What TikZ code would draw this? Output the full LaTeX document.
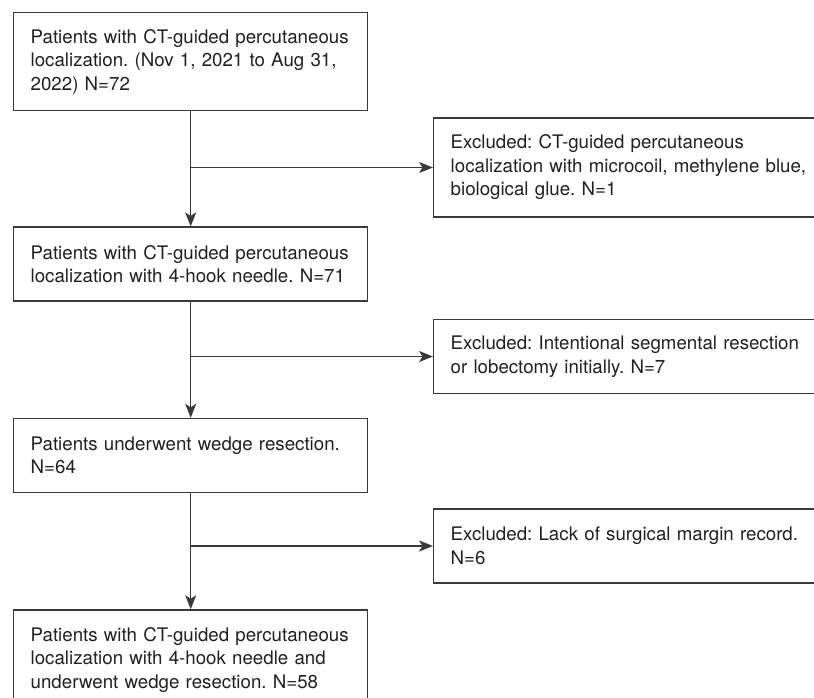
\documentclass[tikz,border=0pt]{standalone}
\usepackage{fontspec}
\setmainfont{TeX Gyre Heros}
\usetikzlibrary{arrows.meta,positioning}
\definecolor{linegray}{HTML}{3A3A3A}
\definecolor{textblack}{HTML}{231F20}
\frenchspacing

\begin{document}
\begin{tikzpicture}[x=1pt,y=1pt,
			stage/.style={draw=linegray,line width=1.4pt,text width=320pt,inner xsep=17pt,inner ysep=0pt,align=left,font=\fontsize{18.7}{23.5}\selectfont,text=textblack},
			excl/.style={stage,text width=380pt,anchor=west},
			arr/.style={-{Stealth[length=14pt,width=11pt,inset=3.5pt]},line width=1.4pt,linegray}
			]
			\useasboundingbox (0,0) rectangle (814,-698);
			% main column
			\node[stage,minimum height=98pt,anchor=north west] (s1) at (13,-12) {Patients with CT-guided percutaneous\\localization. (Nov 1, 2021 to Aug 31,\\2022) N=72};
			\node[stage,minimum height=74pt,below=115pt of s1] (s2) {Patients with CT-guided percutaneous\\localization with 4-hook needle. N=71};
			\node[stage,minimum height=74pt,below=116pt of s2] (s3) {Patients underwent wedge resection.\\N=64};
			\node[stage,minimum height=100pt,below=116pt of s3] (s4) {Patients with CT-guided percutaneous\\localization with 4-hook needle and\\underwent wedge resection. N=58};
			% exclusions
			\node[excl,minimum height=99pt] (e1) at (433,-167.5) {Excluded: CT-guided percutaneous\\localization with microcoil, methylene blue,\\biological glue. N=1};
			\node[excl,minimum height=74pt] (e2) at (433,-356.5) {Excluded: Intentional segmental resection\\or lobectomy initially. N=7};
			\node[excl,minimum height=74pt] (e3) at (433,-546) {Excluded: Lack of surgical margin record.\\N=6};
			\coordinate (j1) at (s1.south |- e1.west);
			\coordinate (j2) at (s2.south |- e2.west);
			\coordinate (j3) at (s3.south |- e3.west);
			\draw[arr] (s1) -- (s2);
			\draw[arr] (s2) -- (s3);
			\draw[arr] (s3) -- (s4);
			\draw[arr] (j1) -- (e1);
			\draw[arr] (j2) -- (e2);
			\draw[arr] (j3) -- (e3);
		\end{tikzpicture}
\end{document}
